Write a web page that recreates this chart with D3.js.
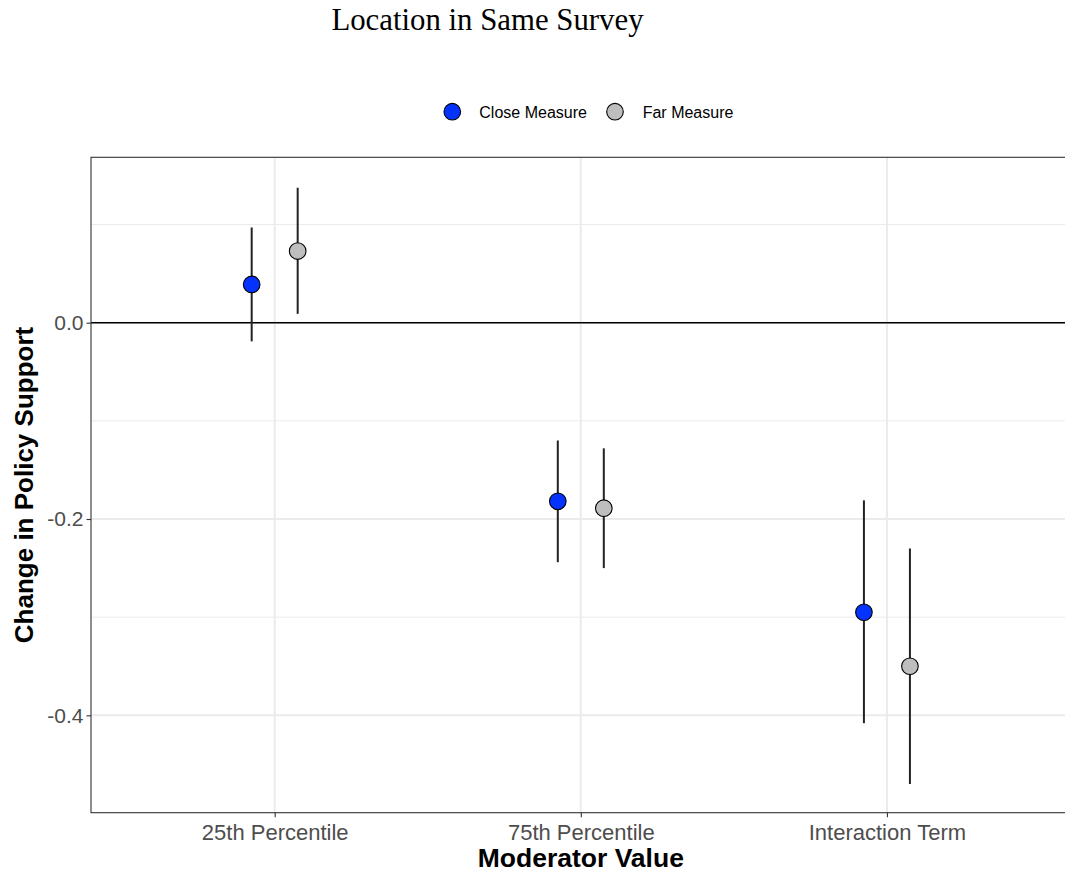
<!DOCTYPE html>
<html>
<head>
<meta charset="utf-8">
<script src="https://cdn.jsdelivr.net/npm/d3@7"></script>
<style>
  html, body { margin: 0; padding: 0; background: #ffffff; }
  svg { display: block; }
</style>
</head>
<body>
<svg id="chart" width="1065" height="873"></svg>
<script>
// Estimates with 95% intervals by moderator value
const categories = ["25th Percentile", "75th Percentile", "Interaction Term"];
const series = ["Close Measure", "Far Measure"];
const seriesColors = ["#0433FF", "#BEBEBE"];

const closeEst = [0.039, -0.182, -0.295];
const closeLo  = [-0.019, -0.244, -0.408];
const closeHi  = [0.097, -0.120, -0.181];

const farEst = [0.073, -0.189, -0.350];
const farLo  = [0.009, -0.250, -0.470];
const farHi  = [0.1375, -0.128, -0.230];

const yMajorTicks = [0.0, -0.2, -0.4];
const yMinorTicks = [0.1, -0.1, -0.3];
const yDomain = [-0.4992, 0.1685];

const rows = [];
categories.forEach((c, i) => {
  rows.push({ cat: c, series: series[0], est: closeEst[i], lo: closeLo[i], hi: closeHi[i] });
  rows.push({ cat: c, series: series[1], est: farEst[i], lo: farLo[i], hi: farHi[i] });
});

const svg = d3.select("#chart");
const panel = { left: 91, right: 1070.6, top: 157.3, bottom: 812.7 };

const x = d3.scalePoint().domain(categories).range([panel.left, panel.right]).padding(0.6);
const dodge = d3.scalePoint().domain(series).range([-23, 23]);
const y = d3.scaleLinear().domain(yDomain).range([panel.bottom, panel.top]);
const color = d3.scaleOrdinal().domain(series).range(seriesColors);

const g = svg.append("g");

// grid
g.selectAll(".minor").data(yMinorTicks).join("line")
  .attr("x1", panel.left).attr("x2", panel.right)
  .attr("y1", d => y(d)).attr("y2", d => y(d))
  .attr("stroke", "#EBEBEB").attr("stroke-width", 1);
g.selectAll(".major").data(yMajorTicks).join("line")
  .attr("x1", panel.left).attr("x2", panel.right)
  .attr("y1", d => y(d)).attr("y2", d => y(d))
  .attr("stroke", "#EBEBEB").attr("stroke-width", 2);
g.selectAll(".vgrid").data(categories).join("line")
  .attr("x1", d => x(d)).attr("x2", d => x(d))
  .attr("y1", panel.top).attr("y2", panel.bottom)
  .attr("stroke", "#EBEBEB").attr("stroke-width", 2);

// reference line at zero
g.append("line")
  .attr("x1", panel.left).attr("x2", panel.right)
  .attr("y1", y(0)).attr("y2", y(0))
  .attr("stroke", "#000").attr("stroke-width", 1.6);

// interval lines
g.selectAll(".ci").data(rows).join("line")
  .attr("x1", d => x(d.cat) + dodge(d.series))
  .attr("x2", d => x(d.cat) + dodge(d.series))
  .attr("y1", d => y(d.lo)).attr("y2", d => y(d.hi))
  .attr("stroke", "#222").attr("stroke-width", 2);

// point estimates
g.selectAll(".pt").data(rows).join("circle")
  .attr("cx", d => x(d.cat) + dodge(d.series))
  .attr("cy", d => y(d.est))
  .attr("r", 8.3)
  .attr("fill", d => color(d.series))
  .attr("stroke", "#000").attr("stroke-width", 1.1);

// panel border
g.append("rect")
  .attr("x", panel.left).attr("y", panel.top)
  .attr("width", panel.right - panel.left).attr("height", panel.bottom - panel.top)
  .attr("fill", "none").attr("stroke", "#333").attr("stroke-width", 1.1);

// axes
const yAxis = d3.axisLeft(y).tickValues(yMajorTicks).tickFormat(d3.format(".1f")).tickSize(4.5).tickPadding(3);
const yg = svg.append("g").attr("transform", `translate(${panel.left},0)`).call(yAxis);
yg.select(".domain").remove();
yg.selectAll(".tick line").attr("stroke", "#333").attr("stroke-width", 1.1);
yg.selectAll(".tick text")
  .attr("fill", "#4D4D4D")
  .style("font-family", "Arial, 'Liberation Sans', sans-serif")
  .style("font-size", "21px")
  .text(d => d3.format(".1f")(d).replace("−", "-"));

const xAxis = d3.axisBottom(x).tickSize(4.5).tickPadding(5);
const xg = svg.append("g").attr("transform", `translate(0,${panel.bottom})`).call(xAxis);
xg.select(".domain").remove();
xg.selectAll(".tick line").attr("stroke", "#333").attr("stroke-width", 1.1);
xg.selectAll(".tick text")
  .attr("fill", "#4D4D4D")
  .attr("dy", null)
  .attr("y", 27.3)
  .style("font-family", "Arial, 'Liberation Sans', sans-serif")
  .style("font-size", "22px");

// axis titles
svg.append("text")
  .attr("x", (panel.left + panel.right) / 2).attr("y", 867)
  .attr("text-anchor", "middle")
  .style("font-family", "Arial, 'Liberation Sans', sans-serif")
  .style("font-size", "26.5px").style("font-weight", "bold")
  .text("Moderator Value");

svg.append("text")
  .attr("transform", `translate(33,${(panel.top + panel.bottom) / 2}) rotate(-90)`)
  .attr("text-anchor", "middle")
  .style("font-family", "Arial, 'Liberation Sans', sans-serif")
  .style("font-size", "26px").style("font-weight", "bold")
  .text("Change in Policy Support");

// title
svg.append("text")
  .attr("x", 487.5).attr("y", 29.5)
  .attr("text-anchor", "middle")
  .style("font-family", "'Times New Roman', 'Liberation Serif', serif")
  .style("font-size", "30.8px")
  .text("Location in Same Survey");

// legend
const legendItems = [
  { label: series[0], cx: 452.3, tx: 479.3 },
  { label: series[1], cx: 615, tx: 642.7 }
];
const lg = svg.append("g");
lg.selectAll("circle").data(legendItems).join("circle")
  .attr("cx", d => d.cx).attr("cy", 111.7).attr("r", 8.3)
  .attr("fill", d => color(d.label)).attr("stroke", "#000").attr("stroke-width", 1.1);
lg.selectAll("text").data(legendItems).join("text")
  .attr("x", d => d.tx).attr("y", 117.5)
  .style("font-family", "Arial, 'Liberation Sans', sans-serif")
  .style("font-size", "16px")
  .attr("fill", "#000")
  .text(d => d.label);
</script>
</body>
</html>
